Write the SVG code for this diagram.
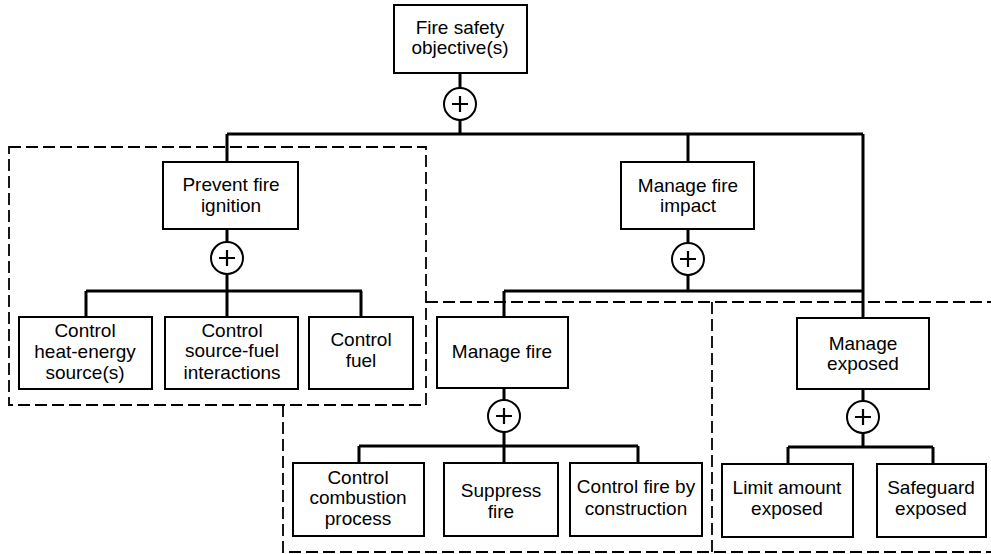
<svg xmlns="http://www.w3.org/2000/svg" width="991" height="554" viewBox="0 0 991 554">
<style>
.box{fill:#fff;stroke:#000;stroke-width:2}
.t{font-family:"Liberation Sans",Arial,sans-serif;font-size:19px;text-anchor:middle;fill:#000}
.c{fill:none;stroke:#000;stroke-width:3}
.d{fill:none;stroke:#000;stroke-width:1.8;stroke-dasharray:12 5}
.and circle{fill:#fff;stroke:#000;stroke-width:2}
.and path{stroke:#000;stroke-width:2.2;fill:none}
</style>
<defs>
<g id="and" class="and"><circle cx="0" cy="0" r="16"/><path d="M-8,0H8M0,-8V8"/></g>
</defs>
<rect width="991" height="554" fill="#fff"/>
<g id="regions">
<rect class="d" x="9" y="147" width="417" height="258"/>
<path class="d" d="M426,302H991M283,405V552H991M712,302V552"/>
</g>
<g id="connectors">
<path class="c" d="M460,73V88M460,120V134M227,134H863M227,134V162M688,134V162M863,134V318"/>
<path class="c" d="M227,229V242M227,274V291M86,291H362M86,291V317M227,291V317M361,291V317"/>
<path class="c" d="M688,229V243M688,275V291M504,291H863M504,291V317"/>
<path class="c" d="M504,388V400M504,432V446M359,446H638M359,446V463M504,446V463M638,446V463"/>
<path class="c" d="M863,389V401M863,433V447M788,447H933M788,447V464M933,447V464"/>
<use href="#and" x="460" y="104"/>
<use href="#and" x="227" y="258"/>
<use href="#and" x="688" y="259"/>
<use href="#and" x="504" y="416"/>
<use href="#and" x="863" y="417"/>
</g>
<g id="n-objective"><rect class="box" x="394" y="5" width="133" height="68"/><text class="t" x="460" y="34">Fire safety</text><text class="t" x="460" y="54">objective(s)</text></g>
<g id="n-prevent"><rect class="box" x="163" y="162" width="135" height="67"/><text class="t" x="231" y="191">Prevent fire</text><text class="t" x="231" y="212">ignition</text></g>
<g id="n-impact"><rect class="box" x="621" y="162" width="133" height="67"/><text class="t" x="688" y="192">Manage fire</text><text class="t" x="688" y="212">impact</text></g>
<g id="n-heat"><rect class="box" x="19" y="317" width="133" height="72"/><text class="t" x="85" y="337">Control</text><text class="t" x="85" y="358">heat-energy</text><text class="t" x="85" y="379">source(s)</text></g>
<g id="n-interact"><rect class="box" x="165" y="317" width="133" height="72"/><text class="t" x="232" y="337">Control</text><text class="t" x="232" y="357">source-fuel</text><text class="t" x="232" y="379">interactions</text></g>
<g id="n-fuel"><rect class="box" x="309" y="317" width="104" height="72"/><text class="t" x="361" y="346">Control</text><text class="t" x="361" y="367">fuel</text></g>
<g id="n-managefire"><rect class="box" x="437" y="317" width="131" height="71"/><text class="t" x="502" y="358">Manage fire</text></g>
<g id="n-exposed"><rect class="box" x="797" y="318" width="132" height="71"/><text class="t" x="863" y="350">Manage</text><text class="t" x="863" y="370">exposed</text></g>
<g id="n-combustion"><rect class="box" x="293" y="463" width="131" height="73"/><text class="t" x="358" y="484">Control</text><text class="t" x="358" y="504">combustion</text><text class="t" x="358" y="525">process</text></g>
<g id="n-suppress"><rect class="box" x="444" y="463" width="114" height="73"/><text class="t" x="501" y="497">Suppress</text><text class="t" x="501" y="518">fire</text></g>
<g id="n-construction"><rect class="box" x="570" y="463" width="132" height="73"/><text class="t" x="636" y="493">Control fire by</text><text class="t" x="636" y="515">construction</text></g>
<g id="n-limit"><rect class="box" x="722" y="464" width="131" height="73"/><text class="t" x="787" y="494">Limit amount</text><text class="t" x="787" y="515">exposed</text></g>
<g id="n-safeguard"><rect class="box" x="877" y="464" width="109" height="73"/><text class="t" x="931" y="494">Safeguard</text><text class="t" x="931" y="515">exposed</text></g>
</svg>
